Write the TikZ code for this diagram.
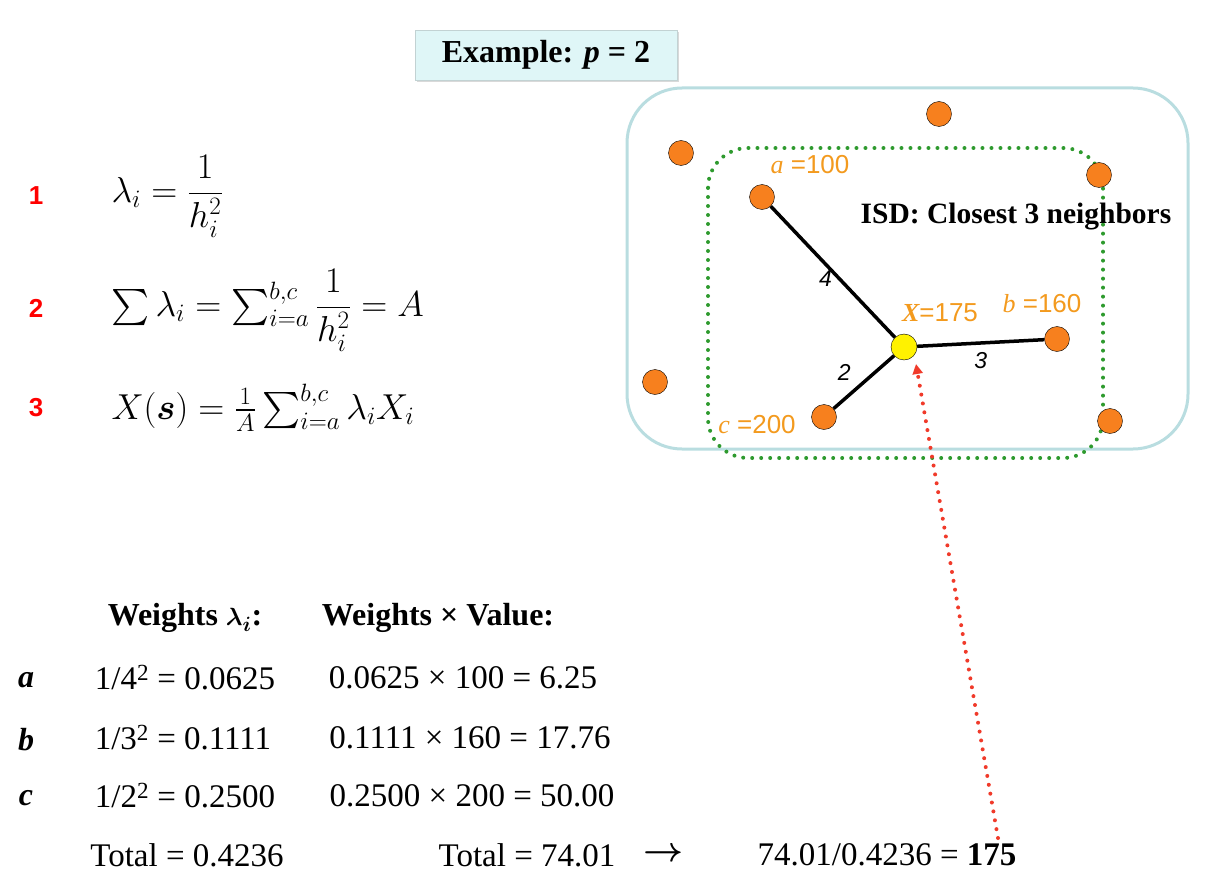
\documentclass[tikz,border=0pt]{standalone}
\usepackage{amsmath}
\usepackage{fontspec}
\setmainfont{Liberation Serif}
\newfontfamily\sff{Liberation Sans}
\usetikzlibrary{arrows.meta,shadows}
\definecolor{dorange}{HTML}{F7801E}
\definecolor{lorange}{HTML}{F39A1E}
\definecolor{boxcyan}{HTML}{DFF6F7}
\definecolor{frame}{HTML}{B9DDE0}
\definecolor{dgreen}{HTML}{2E9A2E}
\definecolor{rred}{HTML}{F03A2A}
\newcommand{\myformula}[1]{\scalebox{1.45}{\fontsize{24}{28}\selectfont$#1$}}
\begin{document}
\begin{tikzpicture}[x=1pt,y=-1pt,
  pt/.style={circle,draw=black,fill=dorange,minimum size=25pt,inner sep=0pt},
  lab/.style={font=\sff\fontsize{26}{28}\selectfont,text=lorange,anchor=center},
  edgel/.style={font=\sff\itshape\fontsize{23}{25}\selectfont},
  num/.style={font=\sff\bfseries\fontsize{26}{28}\selectfont,text=red},
  fml/.style={anchor=west},
  tb/.style={font=\fontsize{33}{36}\selectfont},
  tbb/.style={font=\bfseries\fontsize{32}{36}\selectfont},
  dots/.style={line width=4pt,line cap=round,dash pattern=on 0pt off 9pt},
  edge/.style={line width=3.5pt}]
\useasboundingbox (0,0) rectangle (1217,896);
\node[draw=boxcyan!70!gray,fill=boxcyan,drop shadow={opacity=0.3},minimum width=262pt,minimum height=50pt,font=\bfseries\fontsize{32}{34}\selectfont] (title) at (546,55) {Example: \textit{p} = 2};
\draw[frame,line width=3pt,rounded corners=55pt] (627,88) rectangle (1188,449);
\draw[dgreen,dots,rounded corners=40pt] (708,148) rectangle (1103,458);
\node[pt] (p1) at (681,153) {};
\node[pt] (p2) at (939,114) {};
\node[pt] (p3) at (1099,175) {};
\node[pt] (p4) at (655,382) {};
\node[pt] (p5) at (1110,421) {};
\node[pt] (a) at (762,197) {};
\node[pt] (b) at (1057,339) {};
\node[pt] (c) at (824,417) {};
\node[circle,draw=black,fill=yellow,minimum size=26pt,inner sep=0pt] (x) at (904,347) {};
\draw[edge] (x) -- (a) node[edgel,pos=0.45,left=2pt] {4};
\draw[edge] (x) -- (b) node[edgel,pos=0.5,below=4pt] {3};
\draw[edge] (x) -- (c) node[edgel,pos=0.6,above left=2pt] {2};
\node[lab] (la) at (810,165) {{\rmfamily\itshape a} =100};
\node[lab] (lx) at (940,313) {{\rmfamily\bfseries\itshape X}=175};
\node[lab] (lb) at (1042,304) {{\rmfamily\itshape b} =160};
\node[lab] (lc) at (757,425) {{\rmfamily\itshape c} =200};
\node[font=\bfseries\fontsize{29.5}{32}\selectfont] (isd) at (1016,217) {ISD: Closest 3 neighbors};
\node[num] (n1) at (36,196) {1};
\node[num] (n2) at (36,308) {2};
\node[num] (n3) at (36,408) {3};
\node[fml] (f1) at (108,196) {\myformula{\lambda_i=\dfrac{1}{h_i^2}}};
\node[fml] (f2) at (108,310) {\myformula{\sum\lambda_i=\sum_{i=a}^{b,c}\dfrac{1}{h_i^2}=A}};
\node[fml] (f3) at (108,408) {\myformula{X(\boldsymbol{s})=\tfrac{1}{A}\sum_{i=a}^{b,c}\lambda_iX_i}};
\node[tbb] (h1) at (185,618) {Weights $\boldsymbol{\lambda_i}$:};
\node[tbb] (h2) at (438,618) {Weights × Value:};
\node[tbb,font=\bfseries\itshape\fontsize{32}{36}\selectfont] (ra) at (26,680) {a};
\node[tbb,font=\bfseries\itshape\fontsize{32}{36}\selectfont] (rb) at (26,740) {b};
\node[tbb,font=\bfseries\itshape\fontsize{32}{36}\selectfont] (rc) at (26,798) {c};
\node[tb] (a1) at (185,678) {1/4\textsuperscript{2} = 0.0625};
\node[tb] (b1) at (183,738) {1/3\textsuperscript{2} = 0.1111};
\node[tb] (c1) at (185,796) {1/2\textsuperscript{2} = 0.2500};
\node[tb] (a2) at (463,678) {0.0625 × 100 = 6.25};
\node[tb] (b2) at (470,738) {0.1111 × 160 = 17.76};
\node[tb] (c2) at (472,796) {0.2500 × 200 = 50.00};
\node[tb] (t1) at (187,855) {Total = 0.4236};
\node[tb] (t2) at (527,855) {Total = 74.01};
\node[tb] (arr) at (664,855) {\scalebox{1.4}{$\boldsymbol{\rightarrow}$}};
\node[tb] (t3) at (887,855) {74.01/0.4236 = \textbf{175}};
\coordinate (rs) at (998,838);
\draw[rred,dots,-{Triangle[width=10pt,length=10pt]}] (rs) -- (916,364);
\end{tikzpicture}
\end{document}
